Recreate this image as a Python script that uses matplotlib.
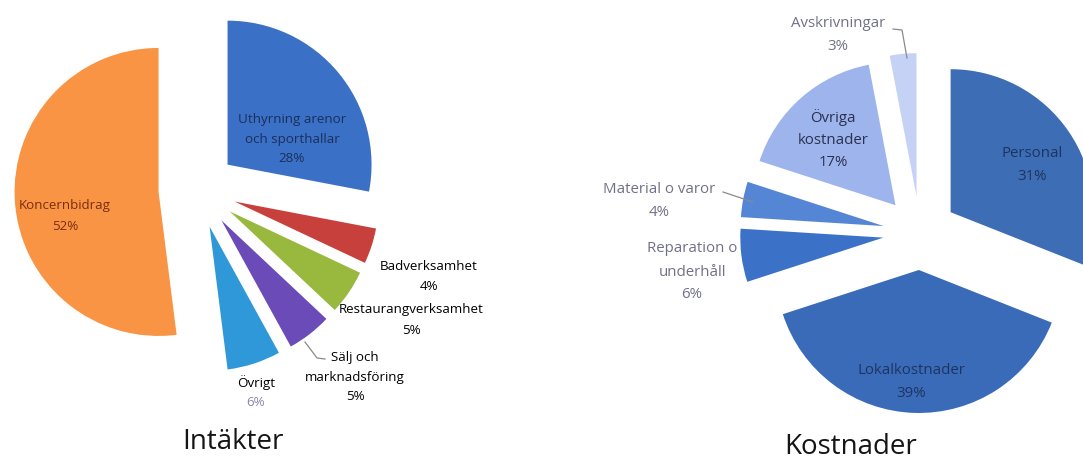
import matplotlib
matplotlib.use('Agg')
import matplotlib.pyplot as plt

plt.rcParams['font.family'] = ['Open Sans', 'DejaVu Sans']

W, H = 1083, 459

# Intäkter (medurs från kl 12)
inc_names = ['Uthyrning arenor\noch sporthallar', 'Badverksamhet', 'Restaurangverksamhet',
             'Sälj och\nmarknadsföring', 'Övrigt', 'Koncernbidrag']
inc_values = [28, 4, 5, 5, 6, 52]
inc_colors = ['#3a70c6', '#c8403c', '#98b83e', '#6a4bb8', '#2f98d8', '#f89444']
inc_text_colors = ['#1c2f5a', 'black', 'black', 'black', 'black', '#7a2e10']
inc_pct_colors = ['#1c2f5a', 'black', 'black', 'black', '#8a88a8', '#7a2e10']

# Kostnader (medurs från kl 12)
cost_names = ['Personal', 'Lokalkostnader', 'Reparation o\nunderhåll', 'Material o varor',
              'Övriga\nkostnader', 'Avskrivningar']
cost_values = [31, 39, 6, 4, 17, 3]
cost_colors = ['#3d6db5', '#3a6bb8', '#3b72c8', '#5585d5', '#9db5ec', '#c5d2f5']
cost_text_colors = ['#1e3460', '#1e3460', '#707088', '#707088', '#2a3050', '#707088']

# layout (bildkoordinater i pixlar, y nedåt)
inc_center, inc_radius, inc_explode = (197.5, 189.5), 144, 39
cost_center, cost_radius, cost_explode = (920, 233), 143, 37
inc_text_pos = [(292, 139), (429, 277), (411, 320), (355, 377), (256, 393), (65, 216)]
cost_text_pos = [(1032, 165), (911, 382), (692, 272), (659, 201), (833, 140), (838, 35)]
inc_leaders = [[(305, 342), (317, 358), (325, 359)]]
cost_leaders = [[(893, 29), (902, 30), (907, 58)], [(723, 192), (753, 202)]]


def fy(y):
    return H - y


fig = plt.figure(figsize=(W / 100, H / 100), dpi=100)
ax = fig.add_axes([0, 0, 1, 1])


def draw_pie(values, colors, center, radius, explode):
    ax.pie(values, colors=colors, center=(center[0], fy(center[1])), radius=radius,
           explode=[explode] * len(values), startangle=90, counterclock=False,
           wedgeprops=dict(linewidth=0), frame=True)


def draw_label(name, pct, x, y, color, pct_color, lh, size):
    lines = name.split('\n') + [pct]
    colors = [color] * (len(lines) - 1) + [pct_color]
    y0 = y - lh * (len(lines) - 1) / 2
    for i, (line, c) in enumerate(zip(lines, colors)):
        ax.text(x, fy(y0 + i * lh), line, ha='center', va='center', fontsize=size, color=c)


draw_pie(inc_values, inc_colors, inc_center, inc_radius, inc_explode)
draw_pie(cost_values, cost_colors, cost_center, cost_radius, cost_explode)
ax.set_xlim(0, W)
ax.set_ylim(0, H)
ax.set_aspect('auto')
ax.axis('off')

for name, v, (x, y), c, pc in zip(inc_names, inc_values, inc_text_pos, inc_text_colors, inc_pct_colors):
    draw_label(name, f'{v}%', x, y, c, pc, 20, 9.6)

for name, v, (x, y), c in zip(cost_names, cost_values, cost_text_pos, cost_text_colors):
    draw_label(name, f'{v}%', x, y, c, c, 23, 10.8)

for pts in inc_leaders + cost_leaders:
    ax.plot([p[0] for p in pts], [fy(p[1]) for p in pts], color='#8a8a8a', lw=0.9)

ax.text(233, fy(442), 'Intäkter', ha='center', va='center', fontsize=20, color='#151515')
ax.text(851, fy(447), 'Kostnader', ha='center', va='center', fontsize=20, color='#151515')

fig.savefig('out.png', dpi=100, facecolor='white')
